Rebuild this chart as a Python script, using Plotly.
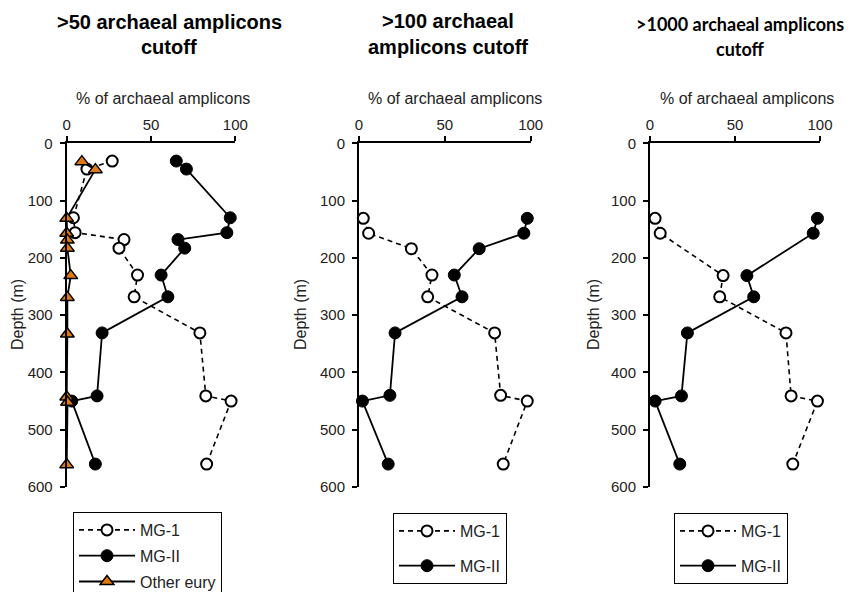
import plotly.graph_objects as go

# ---------------- data ----------------
depth_p1 = [31, 45, 130, 156, 168, 183, 230, 268, 331, 441, 450, 560]
mg1_p1 = [27, 12, 4, 5, 34, 31, 42, 40, 79, 82.5, 97.5, 83]
mg2_p1 = [65, 71, 97, 95, 66, 70, 56, 60, 21, 18, 3, 17]
eury_depth_p1 = [32, 46, 131, 157, 169, 183, 231, 269, 333, 443, 452, 561]
eury_p1 = [9, 17, 0, 0, 0.4, 0.4, 2.4, 0.4, 0.4, 0, 0.5, 0]

depth_p2 = [131, 157, 184, 230, 268, 331, 440, 450, 560]
mg1_p2 = [2.5, 5.6, 30.5, 42.5, 40, 79, 82.5, 98, 84]
mg2_p2 = [98, 96, 70, 55.5, 60, 21, 18, 2, 17]

depth_p3 = [131, 157, 231, 268, 331, 441, 450, 560]
mg1_p3 = [3, 6, 43, 41, 80, 83, 98.5, 84]
mg2_p3 = [98.5, 96, 57, 61, 22, 18.5, 3, 17.5]

titles_line1 = [">50 archaeal amplicons", ">100 archaeal", ">1000 archaeal amplicons"]
titles_line2 = ["cutoff", "amplicons cutoff", "cutoff"]
x_title = "% of archaeal amplicons"
y_title = "Depth (m)"
x_ticks = [0, 50, 100]
y_ticks = [0, 100, 200, 300, 400, 500, 600]

W, H = 852, 592
FONT = "Arial, Liberation Sans, sans-serif"
ORANGE = "#E3790E"

# panel plot-area pixel boxes (left, right)
panels_px = [(66.7, 235.3), (359.0, 530.7), (650.0, 820.0)]
top_px, bot_px = 143.3, 487.0

fig = go.Figure()

def px_x(p):
    return p / W

def px_y(p):
    return 1 - p / H

panel_data = [
    (depth_p1, mg1_p1, mg2_p1),
    (depth_p2, mg1_p2, mg2_p2),
    (depth_p3, mg1_p3, mg2_p3),
]

legend_names = ["legend", "legend2", "legend3"]

for i, (dep, m1, m2) in enumerate(panel_data):
    xa = "x" if i == 0 else f"x{i+1}"
    ya = "y" if i == 0 else f"y{i+1}"
    lg = legend_names[i]
    fig.add_trace(go.Scatter(
        x=m1, y=dep, xaxis=xa, yaxis=ya, name="MG-1", legend=lg,
        legendgroup=f"a{i}",
        mode="lines+markers", cliponaxis=False,
        line=dict(color="black", width=1.6, dash="5px,4px"),
        marker=dict(symbol="circle", size=11, color="white",
                    line=dict(color="black", width=2)),
    ))
    fig.add_trace(go.Scatter(
        x=m2, y=dep, xaxis=xa, yaxis=ya, name="MG-II", legend=lg,
        legendgroup=f"b{i}",
        mode="lines+markers", cliponaxis=False,
        line=dict(color="black", width=1.8),
        marker=dict(symbol="circle", size=12, color="black",
                    line=dict(color="black", width=1)),
    ))
    if i == 0:
        fig.add_trace(go.Scatter(
            x=eury_p1, y=eury_depth_p1, xaxis=xa, yaxis=ya, name="Other eury",
            legend=lg, legendgroup="c0",
            mode="lines+markers", cliponaxis=False,
            line=dict(color="black", width=1.8),
            marker=dict(symbol="triangle-up", size=12, color=ORANGE,
                        line=dict(color="black", width=1.5)),
        ))

axis_common_x = dict(
    range=[0, 100], side="top", tickvals=x_ticks, ticks="outside", ticklen=5,
    tickwidth=1.5, tickcolor="black", showline=True, linecolor="black",
    linewidth=2, showgrid=False, zeroline=False,
    tickfont=dict(family=FONT, size=15, color="#222"), fixedrange=True,
)
axis_common_y = dict(
    range=[600, 0], tickvals=y_ticks, ticks="outside", ticklen=5,
    tickwidth=1.5, tickcolor="black", showline=True, linecolor="black",
    linewidth=2, showgrid=False, zeroline=False,
    tickfont=dict(family=FONT, size=15, color="#222"), fixedrange=True,
    ticklabelstandoff=4,
)

ydom = [px_y(bot_px), px_y(top_px)]
layout_axes = {}
for i, (l, r) in enumerate(panels_px):
    xk = "xaxis" if i == 0 else f"xaxis{i+1}"
    yk = "yaxis" if i == 0 else f"yaxis{i+1}"
    xa = "x" if i == 0 else f"x{i+1}"
    ya = "y" if i == 0 else f"y{i+1}"
    layout_axes[xk] = dict(axis_common_x, domain=[px_x(l), px_x(r)], anchor=ya)
    layout_axes[yk] = dict(axis_common_y, domain=ydom, anchor=xa)

fig.update_layout(**layout_axes)

annotations = []
title_centers = [169, 448, 740]
title_y1 = [22, 21, 24]
title_y2 = [47, 47, 49]
title_fonts = [
    dict(family=FONT, size=20, color="black"),
    dict(family=FONT, size=20, color="black"),
    dict(family="Lato, Open Sans, sans-serif", size=18, color="black"),
]
for i in range(3):
    annotations.append(dict(
        text=f"<b>{titles_line1[i]}</b>", x=px_x(title_centers[i]), y=px_y(title_y1[i]),
        xref="paper", yref="paper", xanchor="center", yanchor="middle",
        showarrow=False, font=title_fonts[i]))
    annotations.append(dict(
        text=f"<b>{titles_line2[i]}</b>", x=px_x(title_centers[i]), y=px_y(title_y2[i]),
        xref="paper", yref="paper", xanchor="center", yanchor="middle",
        showarrow=False, font=title_fonts[i]))

xtitle_centers = [163, 455, 747]
depth_x = [17, 300, 593]
for i in range(3):
    annotations.append(dict(
        text=x_title, x=px_x(xtitle_centers[i]), y=px_y(98),
        xref="paper", yref="paper", xanchor="center", yanchor="middle",
        showarrow=False, font=dict(family=FONT, size=16, color="#222")))
    annotations.append(dict(
        text=y_title, x=px_x(depth_x[i]), y=px_y(315), textangle=-90,
        xref="paper", yref="paper", xanchor="center", yanchor="middle",
        showarrow=False, font=dict(family=FONT, size=16, color="#222")))

fig.update_layout(annotations=annotations)

leg_common = dict(
    xanchor="left", yanchor="top", bgcolor="white", bordercolor="black",
    borderwidth=1, font=dict(family=FONT, size=16, color="#222"),
    itemwidth=56, orientation="v", itemclick=False, itemdoubleclick=False,
)
fig.update_layout(
    legend=dict(leg_common, x=px_x(73), y=px_y(512), tracegroupgap=2),
    legend2=dict(leg_common, x=px_x(393), y=px_y(513), tracegroupgap=11),
    legend3=dict(leg_common, x=px_x(674), y=px_y(513), tracegroupgap=11),
)

fig.update_layout(
    width=W, height=H, margin=dict(l=0, r=0, t=0, b=0, autoexpand=False),
    plot_bgcolor="white", paper_bgcolor="white", showlegend=True,
    font=dict(family=FONT),
)

fig.write_html(
    "out.html", config={"displayModeBar": False},
    post_script="document.body.style.margin='0px';document.body.style.overflow='hidden';",
)
